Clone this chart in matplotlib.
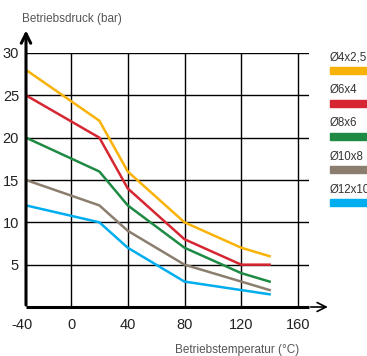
import numpy as np
import matplotlib
matplotlib.use("Agg")
import matplotlib.pyplot as plt
import matplotlib.transforms as mtransforms

# temperature (°C) and pressure (bar) per tube size
temps = [-40, 20, 40, 80, 120, 140]
p_4x25 = [28, 22, 16, 10, 7, 6]
p_6x4 = [25, 20, 14, 8, 5, 5]
p_8x6 = [20, 16, 12, 7, 4, 3]
p_10x8 = [15, 12, 9, 5, 3, 2]
p_12x10 = [12, 10, 7, 3, 2, 1.5]

labels = ["Ø4x2,5", "Ø6x4", "Ø8x6", "Ø10x8", "Ø12x10"]
colors = ["#F9B208", "#D62631", "#1E8A44", "#8B7E6F", "#00AEEF"]
series = [p_4x25, p_6x4, p_8x6, p_10x8, p_12x10]

xticks = [-40, 0, 40, 80, 120, 160]
yticks = [5, 10, 15, 20, 25, 30]

plt.rcParams['font.family'] = ['Liberation Sans Narrow', 'Liberation Sans', 'DejaVu Sans']

W, H = 367, 356
fig = plt.figure(figsize=(W / 100, H / 100), dpi=100)

# left part of the x axis (-40..0) is drawn compressed
k = 45 / 56.75
def fwd(x):
    x = np.asarray(x, dtype=float)
    return np.where(x < 0, x * k, x)
def inv(x):
    x = np.asarray(x, dtype=float)
    return np.where(x < 0, x / k, x)

x0, x1 = -40, 168
px_per = 56.75 / 40
left_px = 26
width_px = (x1 - fwd(x0)) * px_per
bottom_px = 307
top_px = 53
ax = fig.add_axes([left_px / W, (H - bottom_px) / H, width_px / W, (bottom_px - top_px) / H])
ax.set_xscale('function', functions=(fwd, inv))
ax.set_xlim(x0, x1)
ax.set_ylim(0, 30)

for s in ax.spines.values():
    s.set_visible(False)

# grid
for y in yticks:
    ax.plot([x0, x1], [y, y], color='black', lw=1.0, zorder=1)
for x in xticks[1:]:
    ax.plot([x, x], [0, 30], color='black', lw=1.0, zorder=1)

for vals, c in zip(series, colors):
    ax.plot(temps, vals, color=c, lw=1.8, zorder=3, solid_joinstyle='miter')

# axes with arrows
ax.plot([x0, x1], [0, 0], color='black', lw=2.2, zorder=4, clip_on=False, solid_capstyle='butt')
ax.annotate('', xy=(183, 0), xytext=(x1 - 1, 0),
            arrowprops=dict(arrowstyle='->', lw=1.2, color='black', mutation_scale=16),
            annotation_clip=False, zorder=4)
ax.annotate('', xy=(-40, 33.0), xytext=(-40, -0.1),
            arrowprops=dict(arrowstyle='->', lw=2.2, color='black', mutation_scale=17),
            annotation_clip=False, zorder=4)

ax.set_xticks(xticks)
ax.set_xticklabels([str(v) for v in xticks])
ax.set_yticks(yticks)
ax.set_yticklabels([str(v) for v in yticks])
ax.tick_params(length=0, labelsize=10.5, colors='#222222')
ax.tick_params(axis='x', pad=8)
ax.tick_params(axis='y', pad=5)
ax.minorticks_off()

# nudge the -40 label a little to the left, as in the original
first = ax.get_xticklabels()[0]
first.set_transform(first.get_transform() +
                    mtransforms.ScaledTranslation(-4 / 100, 0, fig.dpi_scale_trans))

fig.text(22 / W, 1 - 19 / H, "Betriebsdruck (bar)", fontsize=8.5, color='#555555',
         ha='left', va='center')
fig.text(299 / W, 1 - 350 / H, "Betriebstemperatur (°C)", fontsize=8.5, color='#555555',
         ha='right', va='center')

# legend on the right
for i, (lab, c) in enumerate(zip(labels, colors)):
    ty = 57 + i * 33.2
    fig.text(330 / W, 1 - ty / H, lab, fontsize=8.3, color='#333333', ha='left', va='center')
    fig.patches.append(plt.Rectangle((330 / W, 1 - (ty + 16.5) / H), 40 / W, 7 / H,
                                     transform=fig.transFigure, color=c, figure=fig))

fig.savefig("out.png", dpi=100)
